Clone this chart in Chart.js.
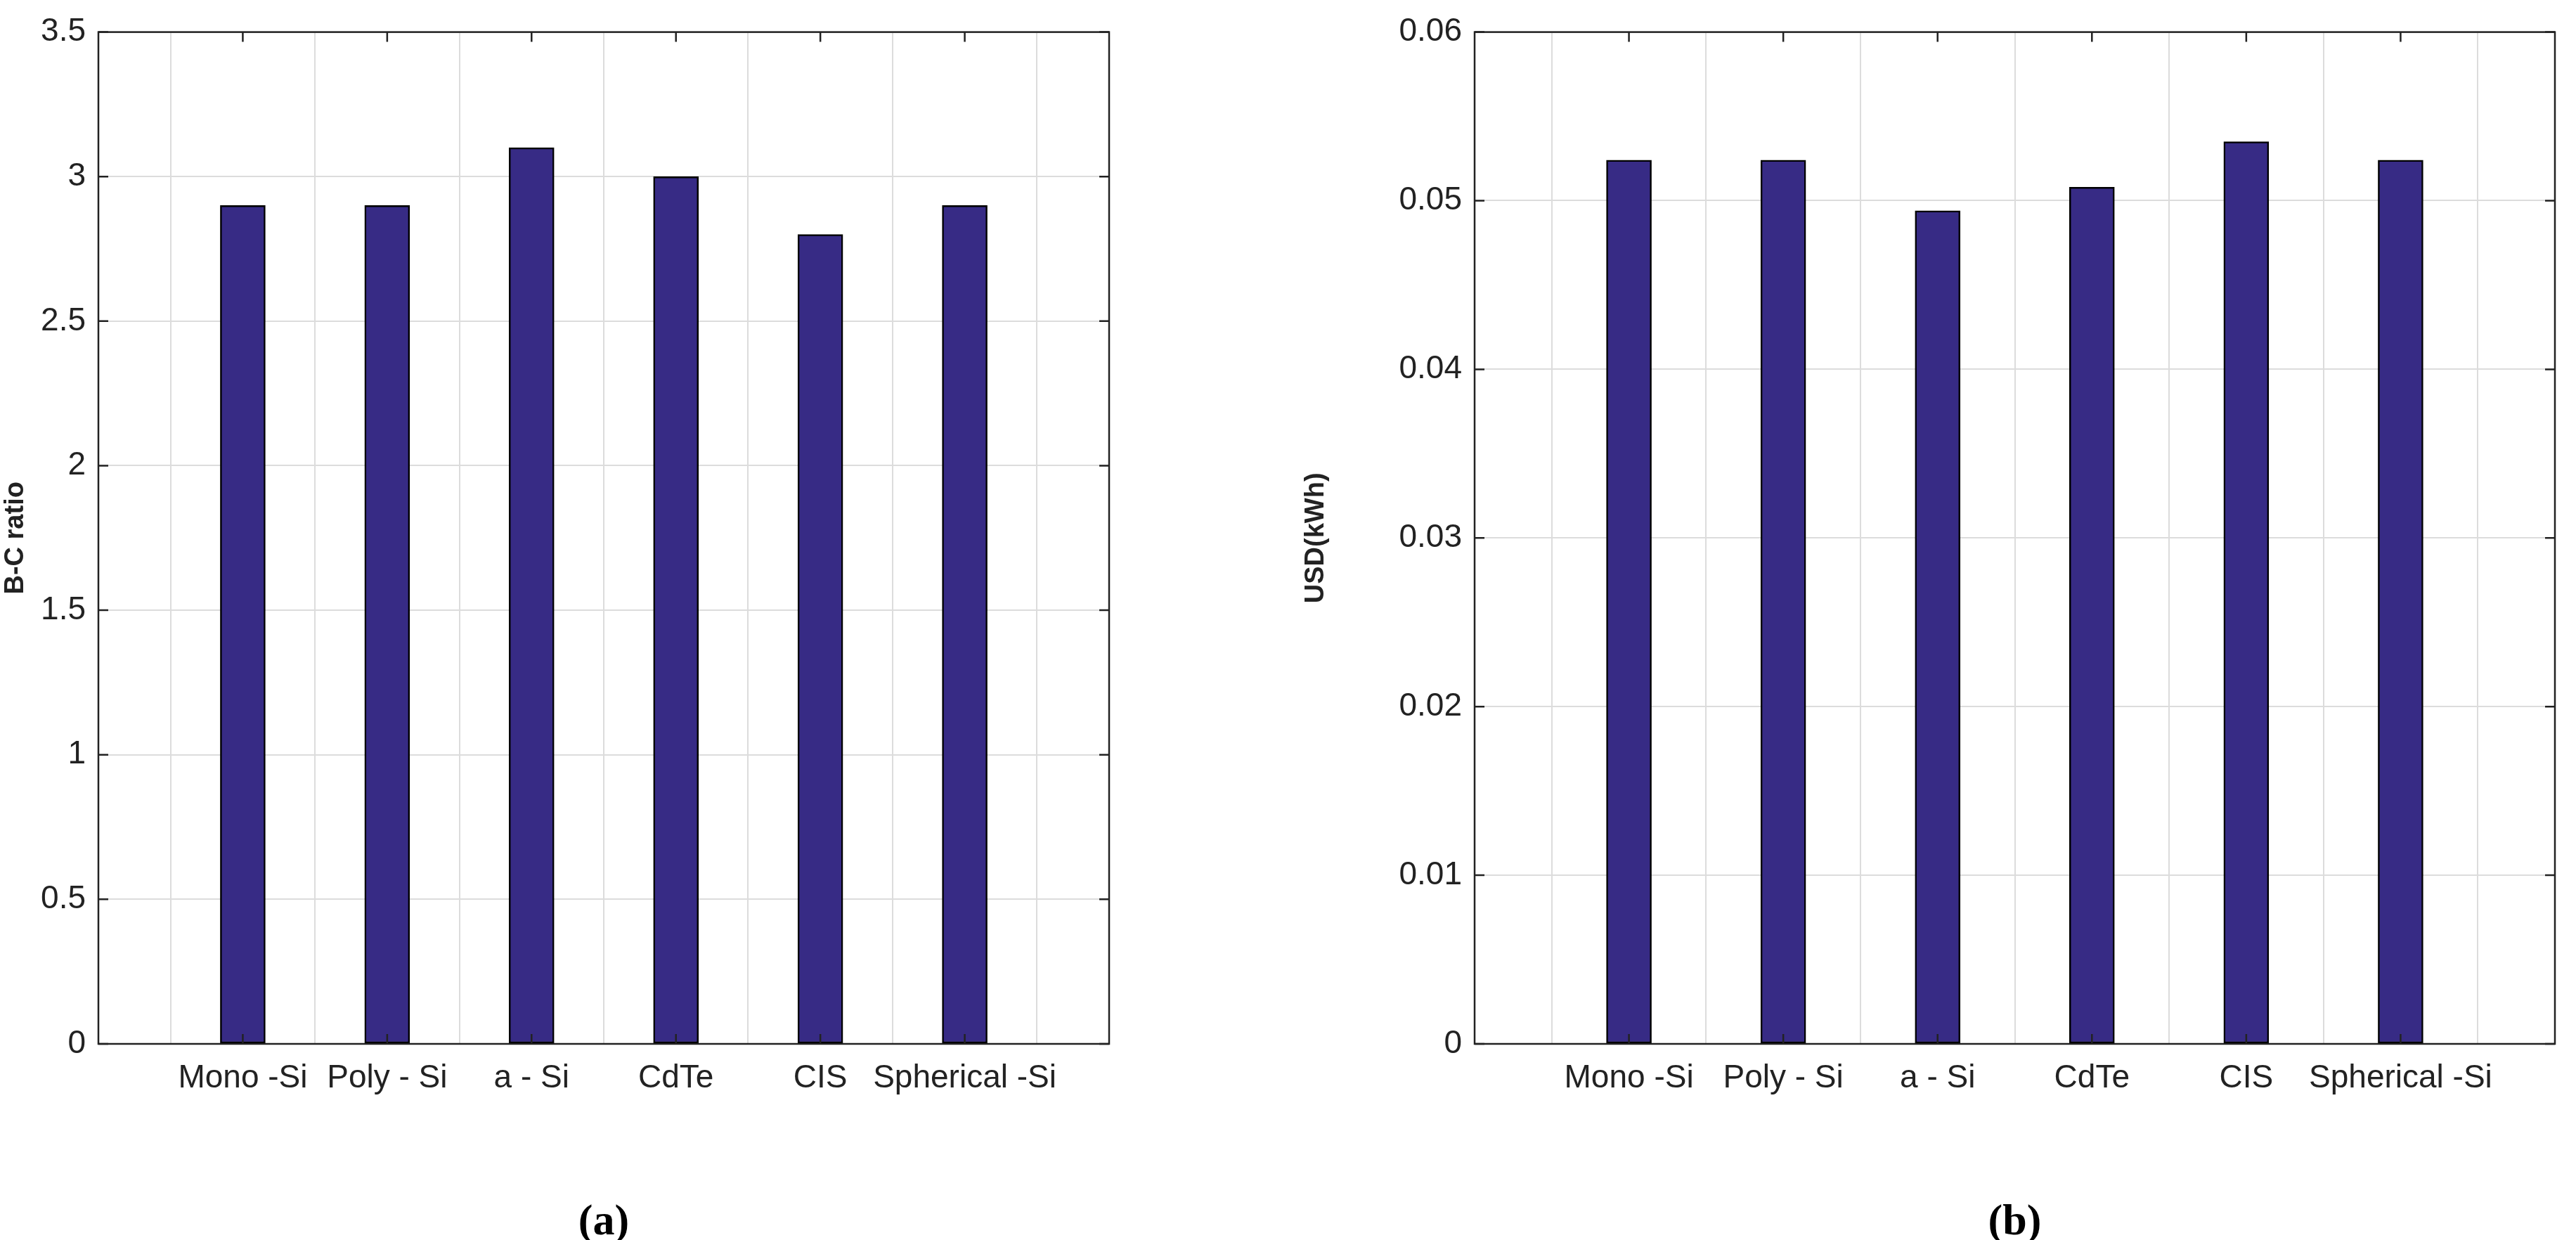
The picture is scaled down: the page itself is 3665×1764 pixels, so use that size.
<!DOCTYPE html>
<html><head><meta charset="utf-8">
<script src="https://cdn.jsdelivr.net/npm/chart.js@4/dist/chart.umd.min.js"></script>
<style>body{margin:0;background:#fff;width:3665px;height:1764px;position:relative;overflow:hidden}
.w{position:absolute;top:0;height:1764px}</style></head><body>
<div class="w" style="left:0;width:1600px"><canvas id="a"></canvas></div>
<div class="w" style="left:1850px;width:1815px"><canvas id="b"></canvas></div>
<script>
const categories = ['', 'Mono -Si', 'Poly - Si', 'a - Si', 'CdTe', 'CIS', 'Spherical -Si', ''];
const bcRatio = [null, 2.9, 2.9, 3.1, 3.0, 2.8, 2.9, null];
const usdKwh = [null, 0.0524, 0.0524, 0.0494, 0.0508, 0.0535, 0.0524, null];
const ticksA = [0, 0.5, 1, 1.5, 2, 2.5, 3, 3.5];
const ticksB = [0, 0.01, 0.02, 0.03, 0.04, 0.05, 0.06];

const FONT = "'Liberation Sans Narrow','Liberation Sans',Arial,sans-serif";
const boxPlugin = {
  id: 'box',
  afterDraw(c, args, o) {
    const a = c.chartArea, x = c.ctx;
    x.save();
    x.strokeStyle = '#222'; x.lineWidth = 2.5;
    x.strokeRect(a.left, a.top, a.right - a.left, a.bottom - a.top);
    // inner tick marks
    const ys = c.scales.y;
    x.lineWidth = 2.5;
    ys.ticks.forEach(t => {
      const py = ys.getPixelForValue(t.value);
      x.beginPath(); x.moveTo(a.left, py); x.lineTo(a.left + 14, py);
      x.moveTo(a.right, py); x.lineTo(a.right - 14, py); x.stroke();
    });
    const xs = c.scales.x;
    for (let i = 1; i < 7; i++) {
      const px = xs.getPixelForValue(i);
      x.beginPath(); x.moveTo(px, a.bottom); x.lineTo(px, a.bottom - 14);
      x.moveTo(px, a.top); x.lineTo(px, a.top + 14); x.stroke();
    }
    x.fillStyle = '#000';
    x.font = "bold 62px 'Liberation Serif','DejaVu Serif',serif";
    x.textAlign = 'center'; x.textBaseline = 'middle';
    x.fillText(o.label, (a.left + a.right) / 2, 1740);
    x.restore();
  }
};

function make(id, data, ticks, max, title, yw, rightPad, label, fmt) {
  return new Chart(document.getElementById(id), {
    type: 'bar',
    data: { labels: categories, datasets: [{ data, backgroundColor: '#372B85', borderColor: '#000', borderWidth: 2.5, barThickness: 64, borderSkipped: false }] },
    options: {
      responsive: true, maintainAspectRatio: false, animation: false,
      layout: { padding: { top: 40, right: rightPad, left: 0, bottom: 0 } },
      plugins: { legend: { display: false }, tooltip: { enabled: false }, box: { label } },
      scales: {
        x: {
          offset: false,
          grid: { color: '#dcdcdc', lineWidth: 2, drawTicks: false },
          border: { display: false },
          ticks: { color: '#222', font: { family: FONT, size: 46 }, padding: 22, maxRotation: 0, autoSkip: false },
          afterFit(s) { s.height = 1764 - 1485; }
        },
        y: {
          min: 0, max,
          afterBuildTicks(s) { s.ticks = ticks.map(v => ({ value: v })); },
          grid: { color: '#dcdcdc', lineWidth: 2, drawTicks: false },
          border: { display: false },
          ticks: { color: '#222', font: { family: FONT, size: 46 }, padding: 18, callback: v => fmt(v) },
          title: { display: true, text: title, color: '#222', font: { family: "'Liberation Sans',Arial,sans-serif", size: 38, weight: 'bold' }, padding: { top: 0, bottom: 0 } },
          afterFit(s) { s.width = yw; }
        }
      }
    },
    plugins: [boxPlugin]
  });
}
make('a', bcRatio, ticksA, 3.5, 'B-C ratio', 140, 21, '(a)', v => String(v));
make('b', usdKwh, ticksB, 0.06, 'USD(kWh)', 248, 30, '(b)', v => v === 0 ? '0' : v.toFixed(2));
</script></body></html>
